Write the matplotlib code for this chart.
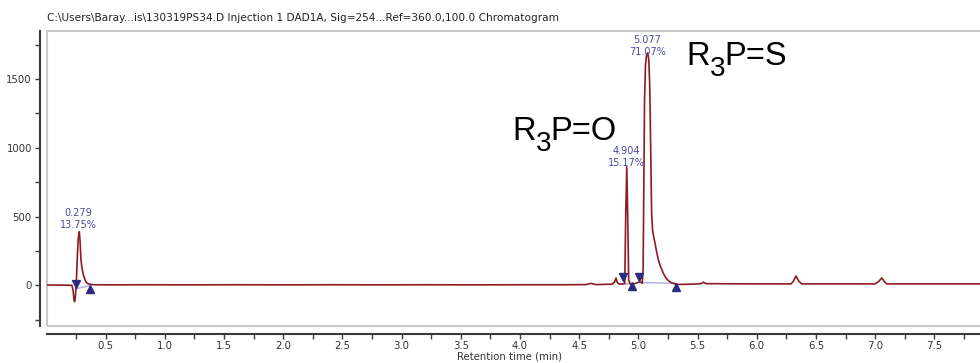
import numpy as np
import matplotlib.pyplot as plt
from matplotlib.patches import Rectangle

# Chromatogram trace (time in min, signal in mAU)
time = [0.0, 0.10, 0.20, 0.215, 0.225, 0.233, 0.238, 0.244, 0.252, 0.260, 0.268,
        0.277, 0.283, 0.290, 0.297, 0.310, 0.325, 0.340, 0.360, 0.40, 0.60,
        0.80, 1.20, 1.60, 2.00, 2.40, 2.80, 3.20, 3.60, 4.00, 4.40, 4.56,
        4.60, 4.64, 4.78, 4.800, 4.811, 4.822, 4.840, 4.860, 4.885, 4.893,
        4.902, 4.910, 4.918, 4.930, 4.950, 4.980, 5.010, 5.025, 5.033, 5.040,
        5.046, 5.052, 5.060, 5.070, 5.079, 5.088, 5.096, 5.104, 5.112, 5.120,
        5.130, 5.141, 5.155, 5.169, 5.190, 5.211, 5.232, 5.253, 5.280, 5.310,
        5.340, 5.50, 5.530, 5.549, 5.570, 6.00, 6.29, 6.310, 6.332, 6.355,
        6.38, 7.00, 7.030, 7.056, 7.080, 7.10, 7.50, 7.886]
signal = [2, 2, 0, 0, -40, -110, -119, -80, 20, 200, 340,
          390, 330, 200, 140, 80, 40, 18, 8, 4, 3,
          4, 3, 4, 3, 4, 3, 4, 3, 4, 4, 5,
          14, 5, 8, 25, 53, 20, 8, 10, 15, 500,
          861, 500, 40, 10, 8, 15, 25, 20, 15, 120,
          700, 1350, 1600, 1680, 1690, 1640, 1450, 1000, 520, 400,
          350, 305, 240, 184, 130, 87, 55, 34, 18, 10,
          6, 10, 12, 22, 12, 10, 10, 30, 68, 30,
          10, 10, 28, 53, 25, 10, 10, 10]

# Integration markers and baselines
peak_rt = [0.279, 4.904, 5.077]
peak_area = [13.75, 15.17, 71.07]
label_x = [0.270, 4.900, 5.077]
label_y = [560, 1010, 1820]
start_t = [0.247, 4.868, 5.006]
start_v = [7, 58, 58]
end_t = [0.367, 4.944, 5.318]
end_v = [-29, -5, -10]
base_t0 = [0.247, 4.868, 5.006]
base_v0 = [-25, 5, 20]
base_t1 = [0.367, 4.944, 5.318]
base_v1 = [-3, 15, 15]

# Compound labels: (main part, subscript, rest)
compounds = [('R', '3', 'P=O'), ('R', '3', 'P=S')]
compound_pos = [(512, 140), (686, 65)]   # left edge, baseline (px from top)

trace_color = '#8E1B22'
mark_color = '#2B2B80'
text_color = '#4A4A9C'

fig = plt.figure(figsize=(9.8, 3.63), dpi=100)
W, H = 980, 363
ax = fig.add_axes([46.5 / W, (H - 326) / H, (980 - 46.5) / W, (326 - 30.7) / H])
ax.set_xlim(0, 7.886)
ax.set_ylim(-296, 1851)

# light grey plot frame
ax.add_patch(Rectangle((0, 0), 1.2, 1, transform=ax.transAxes, fill=False,
                       edgecolor='#C8C8C8', lw=1.5, clip_on=False, zorder=0))

ax.plot(time, signal, color=trace_color, lw=1.2, zorder=3)

for i in range(len(peak_rt)):
    ax.plot([base_t0[i], base_t1[i]], [base_v0[i], base_v1[i]],
            color='#A9AEDB', lw=1.0, zorder=2)
    ax.plot(start_t[i], start_v[i], marker='v', color=mark_color, ms=5.5, zorder=4)
    ax.plot(end_t[i], end_v[i], marker='^', color=mark_color, ms=5.5, zorder=4)
    ax.text(label_x[i], label_y[i], '%.3f\n%.2f%%' % (peak_rt[i], peak_area[i]),
            ha='center', va='top', fontsize=7, color=text_color, linespacing=1.25)

# big compound labels, subscript drawn as its own piece so it can sit lower
renderer = fig.canvas.get_renderer()
for (main, sub, rest), (x0, yb) in zip(compounds, compound_pos):
    x = x0
    for s, size, dy in [(main, 23.5, 0), (sub, 20, 11), (rest, 23.5, 0)]:
        t = fig.text(x / W, 1 - (yb + dy) / H, s, fontsize=size,
                     family='Liberation Sans', color='black', va='baseline')
        x = x + t.get_window_extent(renderer).width - (1 if s == sub else 0)

# axes styling
for s in ['top', 'right']:
    ax.spines[s].set_visible(False)
ax.spines['left'].set_position(('outward', 5))
ax.spines['bottom'].set_position(('outward', 5.5))
for s in ['left', 'bottom']:
    ax.spines[s].set_color('#3A3A3A')
    ax.spines[s].set_linewidth(1.5)

ax.set_yticks([0, 500, 1000, 1500])
ax.set_yticks([-250, 250, 750, 1250, 1750], minor=True)
ax.set_xticks(np.arange(0.5, 7.6, 0.5))
ax.set_xticks(np.arange(0.25, 7.8, 0.5), minor=True)
ax.tick_params(which='both', length=3.5, width=1, color='#3A3A3A',
               labelsize=7.3, labelcolor='#333333', pad=2)
ax.set_xlabel('Retention time (min)', fontsize=7.3, color='#333333')
ax.xaxis.set_label_coords((510 - 46.5) / (980 - 46.5), -0.085)

fig.text(47 / W, 1 - 18 / H,
         'C:\\Users\\Baray...is\\130319PS34.D Injection 1 DAD1A, Sig=254...Ref=360.0,100.0 Chromatogram',
         fontsize=7.6, color='#222222', va='center', ha='left')

fig.savefig('out.png', dpi=100)
